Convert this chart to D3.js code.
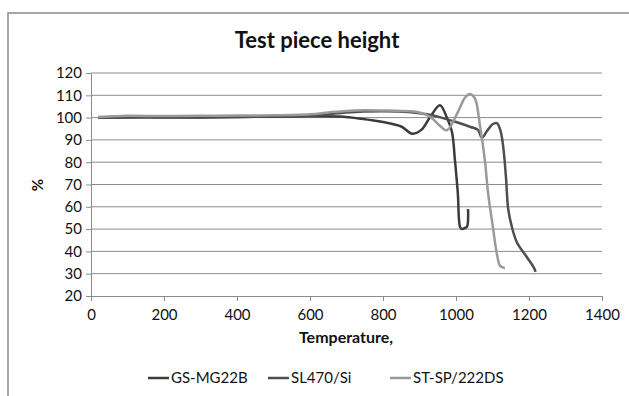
<!DOCTYPE html>
<html>
<head>
<script src="https://d3js.org/d3.v7.min.js"></script>
<style>
  body { margin: 0; background: #fff; }
  text { font-family: Lato, "Open Sans", sans-serif; fill: #111; }
</style>
</head>
<body>
<svg id="chart" width="629" height="396"></svg>
<script>
// series names, in legend order
var seriesNames = ["GS-MG22B", "SL470/Si", "ST-SP/222DS"];

// GS-MG22B
var gsTemp = [20, 100, 200, 300, 400, 500, 600, 680, 740, 800, 850, 880, 905, 930, 956, 975, 989, 997, 1005, 1011, 1016, 1024, 1030, 1033];
var gsVal  = [100, 100.2, 100, 100.1, 100.3, 100.4, 100.6, 100.5, 99.5, 98, 96, 92.8, 94.5, 100.5, 105.5, 100, 93.5, 81, 66, 51, 50, 50.5, 51, 59];

// SL470/Si
var slTemp = [20, 100, 200, 300, 400, 500, 600, 650, 700, 800, 870, 920, 960, 1000, 1040, 1060, 1071, 1085, 1100, 1112, 1122, 1130, 1137, 1143, 1153, 1167, 1194, 1214, 1218];
var slVal  = [100, 100, 100.2, 100.1, 100.3, 100.5, 100.8, 101.5, 102.3, 102.8, 102.5, 101.5, 100, 98, 95.8, 94.5, 91, 94, 97, 97.5, 94, 86, 73, 59, 51, 44, 37.5, 32.5, 30.8];

// ST-SP/222DS
var stTemp = [20, 100, 200, 300, 400, 500, 600, 650, 700, 750, 800, 850, 900, 930, 955, 975, 1005, 1025, 1038, 1052, 1066, 1079, 1088, 1101, 1112, 1121, 1134];
var stVal  = [100.3, 100.8, 100.7, 100.8, 100.9, 101, 101.5, 102.3, 103, 103.3, 103.2, 103, 102.3, 100.3, 96.5, 94.3, 102.5, 109, 110.6, 108.5, 96, 81, 66, 51, 39, 33.5, 32.6];

var xTicks = [0, 200, 400, 600, 800, 1000, 1200, 1400];
var yTicks = [20, 30, 40, 50, 60, 70, 80, 90, 100, 110, 120];

var colors = ["#3b3b3b", "#4f4f4f", "#9a9a9a"];

var series = [
  { name: seriesNames[0], pts: d3.zip(gsTemp, gsVal) },
  { name: seriesNames[1], pts: d3.zip(slTemp, slVal) },
  { name: seriesNames[2], pts: d3.zip(stTemp, stVal) }
];

var svg = d3.select("#chart");

// outer chart border (runs off the right edge)
svg.append("rect")
  .attr("x", 8).attr("y", 13)
  .attr("width", 700).attr("height", 500)
  .attr("fill", "none").attr("stroke", "#8a8a8a").attr("stroke-width", 1.5);

var x = d3.scaleLinear().domain([0, 1400]).range([91, 602]);
var y = d3.scaleLinear().domain([20, 120]).range([296, 73]);

// gridlines
svg.append("g").selectAll("line").data(yTicks.slice(1)).enter().append("line")
  .attr("x1", x(0)).attr("x2", x(1400))
  .attr("y1", d => y(d)).attr("y2", d => y(d))
  .attr("stroke", "#8c8c8c").attr("stroke-width", 1);

// y axis
var yAxis = svg.append("g")
  .attr("transform", "translate(" + x(0) + ",0)")
  .call(d3.axisLeft(y).tickValues(yTicks).tickSize(5).tickPadding(4));
yAxis.select(".domain").attr("stroke", "#8c8c8c");
yAxis.selectAll(".tick line").attr("stroke", "#8c8c8c");
yAxis.selectAll("text").style("font-size", "15px").attr("fill", "#111");

// x axis
var xAxis = svg.append("g")
  .attr("transform", "translate(0," + y(20) + ")")
  .call(d3.axisBottom(x).tickValues(xTicks).tickFormat(d3.format("d")).tickSize(5).tickPadding(8));
xAxis.select(".domain").attr("stroke", "#8c8c8c");
xAxis.selectAll(".tick line").attr("stroke", "#8c8c8c");
xAxis.selectAll("text").style("font-size", "15px").attr("fill", "#111");

// lines
var line = d3.line()
  .x(d => x(d[0]))
  .y(d => y(d[1]))
  .curve(d3.curveCatmullRom.alpha(0.5));

svg.append("g").selectAll("path").data(series).enter().append("path")
  .attr("d", d => line(d.pts))
  .attr("fill", "none")
  .attr("stroke", (d, i) => colors[i])
  .attr("stroke-width", 2.5)
  .attr("stroke-linejoin", "round");

// title and axis titles
svg.append("text")
  .attr("x", 317).attr("y", 48)
  .attr("text-anchor", "middle")
  .style("font-size", "22px").style("font-weight", "bold")
  .text("Test piece height");

svg.append("text")
  .attr("transform", "translate(43,185) rotate(-90)")
  .attr("text-anchor", "middle")
  .style("font-size", "15px").style("font-weight", "bold")
  .text("%");

svg.append("text")
  .attr("x", 346).attr("y", 343)
  .attr("text-anchor", "middle")
  .style("font-size", "16px").style("font-weight", "bold")
  .text("Temperature,");

// legend
var legX = [148, 268, 390];
var leg = svg.append("g").selectAll("g").data(series).enter().append("g")
  .attr("transform", (d, i) => "translate(" + legX[i] + ",378)");
leg.append("line")
  .attr("x1", 0).attr("x2", 21).attr("y1", 0).attr("y2", 0)
  .attr("stroke", (d, i) => colors[i]).attr("stroke-width", 2.5);
leg.append("text")
  .attr("x", 23).attr("y", 5)
  .style("font-size", "15px")
  .text(d => d.name);
</script>
</body>
</html>
